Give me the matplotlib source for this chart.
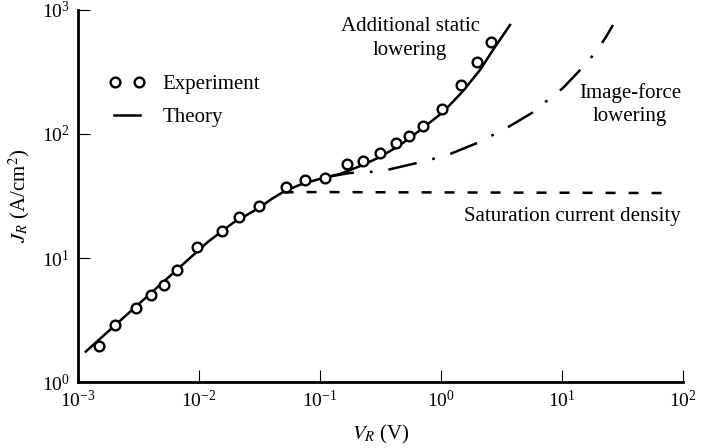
import matplotlib
matplotlib.use('Agg')
import matplotlib.pyplot as plt
from matplotlib.lines import Line2D
from matplotlib.legend_handler import HandlerLine2D

plt.rcParams['font.family'] = ['Liberation Serif', 'DejaVu Serif']
plt.rcParams['mathtext.fontset'] = 'stix'

# experiment (circles)
v_exp = [1.50e-3, 2.03e-3, 3.04e-3, 4.03e-3, 5.09e-3, 6.58e-3, 9.57e-3, 0.0156,
         0.0216, 0.0313, 0.0519, 0.0748, 0.109, 0.166, 0.225, 0.313, 0.421,
         0.547, 0.706, 1.01, 1.46, 2.0, 2.59]
j_exp = [1.96, 2.88, 3.97, 5.06, 6.04, 8.05, 12.3, 16.6, 21.5, 26.4, 37.7, 42.6,
         43.9, 57.0, 60.9, 69.9, 84.6, 96.0, 115, 158, 248, 383, 555]

# theory with additional static lowering (solid)
v_static = [1.16e-3, 0.01186, 0.0191, 0.0313, 0.04, 0.05, 0.0684, 0.1, 0.146,
            0.226, 0.313, 0.433, 0.555, 0.71, 1.04, 1.52, 2.10, 2.69, 3.72]
j_static = [1.76, 13.5, 19.2, 25.3, 30.0, 34.2, 39.0, 43.5, 47.6, 56.2, 65.3,
            78.6, 92.9, 112, 150, 222, 328, 476, 757]

# image-force lowering only (dash-dot)
v_image = [0.0684, 0.121, 0.177, 0.259, 0.358, 0.634, 0.859, 1.19, 1.99, 2.69,
           3.72, 5.98, 7.81, 10.2, 14.9, 19.1, 23.1, 26.4]
j_image = [39.0, 45.5, 48.5, 49.4, 51.3, 58.4, 62.9, 69.0, 84.6, 98.2, 116, 153,
           192, 235, 347, 459, 606, 757]

# saturation current density (dashed)
v_sat = [0.05, 0.07, 0.1, 1.0, 10.0, 74.0]
j_sat = [33.8, 34.0, 34.0, 33.8, 33.6, 33.4]

fig = plt.figure(figsize=(7.02, 4.48), dpi=100)
ax = fig.add_axes([0.1111, 0.1473, 0.8618, 0.8304])

lw = 1.8
ax.plot(v_sat, j_sat, color='black', lw=lw, linestyle=(0, (4.0, 5.2)))
ax.plot(v_image, j_image, color='black', lw=lw,
        linestyle=(15, (11.6, 6.4, 1.1, 6.4)))
ax.plot(v_static, j_static, color='black', lw=lw)
ax.plot(v_exp, j_exp, linestyle='none', marker='o', ms=7, mfc='white',
        mec='black', mew=1.7)

ax.set_xscale('log')
ax.set_yscale('log')
ax.set_xlim(1e-3, 1e2)
ax.set_ylim(1, 1e3)
ax.minorticks_off()
ax.tick_params(which='major', direction='in', length=8.5, width=0.8,
               labelsize=14, pad=6)
for s in ['top', 'right']:
    ax.spines[s].set_visible(False)
for s in ['left', 'bottom']:
    ax.spines[s].set_linewidth(2.0)

ax.set_xlabel(r'$V_R$ (V)', fontsize=15, labelpad=8)
ax.set_ylabel(r'$J_R$ (A/cm$^2$)', fontsize=15, labelpad=7)

ax.text(0.555, 590, 'Additional static\nlowering', ha='center', va='center',
        fontsize=15, linespacing=1.3)
ax.text(36.5, 172, 'Image-force\nlowering', ha='center', va='center',
        fontsize=15, linespacing=1.25)
ax.text(12.3, 21.8, 'Saturation current density', ha='center', va='center',
        fontsize=15)

exp_handle = Line2D([], [], linestyle='none', marker='o', ms=7, mfc='white',
                    mec='black', mew=1.7)
th_handle = Line2D([], [], color='black', lw=lw)
leg = ax.legend([exp_handle, th_handle], ['Experiment', 'Theory'],
                loc='upper left', bbox_to_anchor=(0.0496, 0.826),
                frameon=False, numpoints=2, handlelength=1.85,
                handletextpad=0.75, labelspacing=0.65, borderpad=0,
                borderaxespad=0, fontsize=15,
                handler_map={exp_handle: HandlerLine2D(marker_pad=0.35)})

fig.savefig('out.png', dpi=100)
